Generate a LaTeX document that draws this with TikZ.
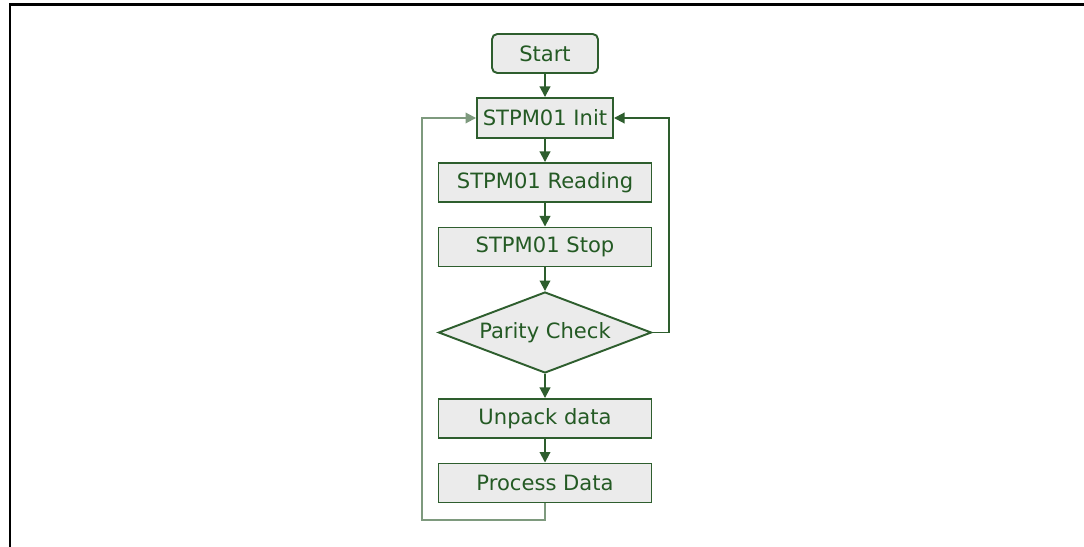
\documentclass[tikz,border=0pt]{standalone}
\usepackage{fontspec}
\setmainfont{DejaVu Sans}
\usetikzlibrary{shapes.geometric,arrows.meta}
\definecolor{flowgreen}{HTML}{2E5E2E}
\definecolor{flowtext}{HTML}{245A24}
\definecolor{flowfill}{HTML}{EBEBEB}
\definecolor{loopgreen}{HTML}{7E9A7E}
\begin{document}
\begin{tikzpicture}[x=0.02cm, y=-0.02cm]
\tikzset{boite/.style={draw=flowgreen, fill=flowfill, line width=1.1pt, text=flowtext,
    font=\fontsize{12}{14}\selectfont, minimum height=0.78cm, inner sep=0pt},
  debut/.style={boite, rounded corners=3pt, minimum width=2.12cm},
  losange/.style={boite, diamond, aspect=2.63, minimum width=4.26cm, minimum height=1.62cm},
  fleche/.style={draw=flowgreen, line width=1.1pt, -{Triangle[length=6pt, width=6pt]}}}
\useasboundingbox (0,0) rectangle (1084,547);
\draw[line width=1.7pt] (10,547) -- (10,4.5) -- (1084,4.5);
\node[debut] (S) at (545,53.5) {Start};
\node[boite, minimum width=2.72cm, minimum height=0.8cm] (I) at (545,118) {STPM01 Init};
\node[boite, minimum width=4.26cm] (R) at (545,182.5) {STPM01 Reading};
\node[boite, minimum width=4.26cm] (T) at (545,247) {STPM01 Stop};
\node[losange] (P) at (545,332.5) {Parity Check};
\node[boite, minimum width=4.26cm] (U) at (545,418.5) {Unpack data};
\node[boite, minimum width=4.26cm] (D) at (545,483) {Process Data};
\coordinate (B1) at (545,520);
\coordinate (B2) at (422,520);
\coordinate (B3) at (422,118);
\coordinate (C1) at (669,332.5);
\coordinate (C2) at (669,118);
\draw[fleche] (S) -- (I);
\draw[fleche] (I) -- (R);
\draw[fleche] (R) -- (T);
\draw[fleche] (T) -- (P);
\draw[fleche] (P) -- (U);
\draw[fleche] (U) -- (D);
\draw[fleche] (P.east) -- (C1) -- (C2) -- (I.east);
\draw[fleche, draw=loopgreen] (D.south) -- (B1) -- (B2) -- (B3) -- (I.west);
\end{tikzpicture}
\end{document}
